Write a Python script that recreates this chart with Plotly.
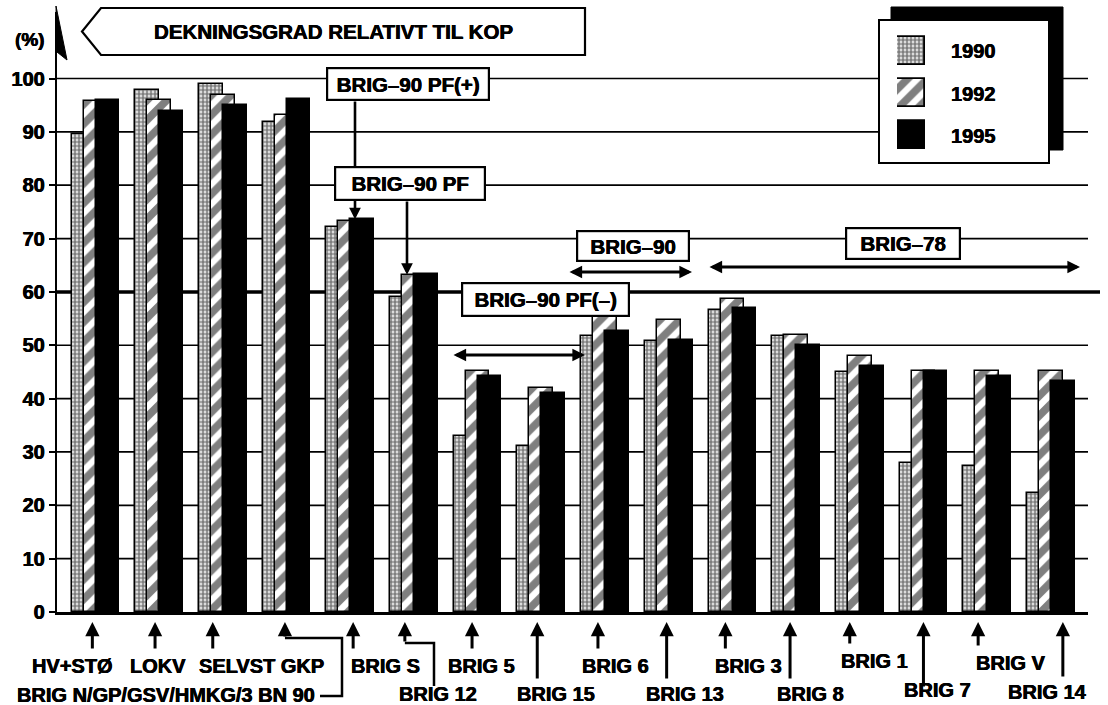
import plotly.graph_objects as go

# ---------------- data ----------------
CATEGORIES = ["HV+STØ", "LOKV", "SELVST GKP", "BRIG N/GP/GSV/HMKG/3 BN 90",
              "BRIG S", "BRIG 12", "BRIG 5", "BRIG 15", "BRIG 6", "BRIG 13",
              "BRIG 3", "BRIG 8", "BRIG 1", "BRIG 7", "BRIG V", "BRIG 14"]
YEARS = ["1990", "1992", "1995"]
V1990 = [89.6, 97.9, 98.9, 91.9, 72.2, 59.0, 33.0, 31.1, 51.7, 50.8, 56.7, 51.7, 45.0, 28.0, 27.3, 22.3]
V1992 = [95.8, 95.9, 96.9, 93.1, 73.3, 63.2, 45.2, 41.9, 57.0, 54.7, 58.6, 51.9, 47.9, 45.1, 45.1, 45.1]
V1995 = [95.9, 93.9, 95.1, 96.1, 73.6, 63.4, 44.3, 41.0, 52.6, 50.9, 57.0, 50.0, 46.2, 45.1, 44.3, 43.3]
Y_TICKS = list(range(0, 101, 10))
TITLE = "DEKNINGSGRAD RELATIVT TIL KOP"
Y_UNIT = "(%)"
BOX_LABELS = ["BRIG–90 PF(+)", "BRIG–90 PF", "BRIG–90 PF(–)", "BRIG–90", "BRIG–78"]

# ---------------- geometry / style ----------------
W, H = 1108, 705
L, R, T, B = 57, 1088, 12, 612
PX_PER_CAT = 63.7
CAT0_PX = 95.35
PX_PER_UNIT = 5.335
XMIN = (L - CAT0_PX) / PX_PER_CAT
XMAX = (R - CAT0_PX) / PX_PER_CAT
YMAX = (B - T) / PX_PER_UNIT

GROUP_W = 47.7 / PX_PER_CAT
BAR_W = 23.7 / PX_PER_CAT
STEP = 12.0 / PX_PER_CAT

FONT = "Liberation Sans, Arial, Helvetica, sans-serif"
HEAVY = "0.35px 0 0 black, -0.35px 0 0 black"


def bold(size):
    return dict(family=FONT, size=size, color="black", weight=700, shadow=HEAVY)


def paper_x(px):
    return (px - L) / (R - L)


def paper_y(py):
    return (B - py) / (B - T)


def cat_px(i):
    return CAT0_PX + PX_PER_CAT * i


def val_py(v):
    return B - v * PX_PER_UNIT


STYLES = {
    "1990": dict(color="white",
                 pattern=dict(shape=".", fgcolor="black", bgcolor="white", size=4, solidity=0.7)),
    "1992": dict(color="white",
                 pattern=dict(shape="/", fgcolor="black", bgcolor="white", size=14, solidity=0.55)),
    "1995": dict(color="black"),
}

fig = go.Figure()

# main bars (overlapping groups)
for i, (year, vals) in enumerate(zip(YEARS, [V1990, V1992, V1995])):
    fig.add_bar(x=list(range(len(CATEGORIES))), y=vals, name=year,
                width=BAR_W, offset=-GROUP_W / 2 + i * STEP,
                marker=dict(**STYLES[year], line=dict(color="black", width=1.5)),
                showlegend=False, hoverinfo="skip")

# legend swatches on a small auxiliary axis
for i, year in enumerate(YEARS):
    fig.add_bar(x=[1], y=[i], orientation="h", base=0, width=0.667,
                marker=dict(**STYLES[year], line=dict(color="black", width=1.8)),
                xaxis="x2", yaxis="y2", showlegend=False, hoverinfo="skip")

shapes = []
# gridlines
for v in Y_TICKS[1:]:
    thick = (v == 60)
    shapes.append(dict(type="line", xref="paper", yref="paper", layer="below",
                       x0=0, x1=paper_x(1100) if thick else 1,
                       y0=v / YMAX, y1=v / YMAX,
                       line=dict(color="black", width=3.5 if thick else 1.7)))
# legend shadow + box
shapes.append(dict(type="rect", xref="paper", yref="paper", layer="below",
                   x0=paper_x(891), x1=paper_x(1063), y0=paper_y(150), y1=paper_y(7),
                   fillcolor="black", line=dict(color="black", width=1)))
shapes.append(dict(type="rect", xref="paper", yref="paper", layer="below",
                   x0=paper_x(879), x1=paper_x(1049), y0=paper_y(163), y1=paper_y(20),
                   fillcolor="white", line=dict(color="black", width=2)))


def path(points):
    return "M" + " L".join(f"{paper_x(a):.5f},{paper_y(b):.5f}" for a, b in points)


# title chevron box
shapes.append(dict(type="path", xref="paper", yref="paper",
                   path=path([(101, 8), (585, 8), (585, 55), (101, 55), (82, 31.5)]) + " Z",
                   fillcolor="white", line=dict(color="black", width=2.2)))
# y-axis arrow head (harpoon)
shapes.append(dict(type="path", xref="paper", yref="paper",
                   path=path([(56, 6), (67, 60), (57, 52)]) + " Z",
                   fillcolor="black", line=dict(color="black", width=1)))

# category labels and arrows
CAT_LABEL_POS = [  # (text offset px, text y px, arrow offset px, arrow tail y px)
    (-23, 666, -3, 650),
    (-1, 666, -4, 650),
    (39, 666, -10, 650),
    (-120.5, 695, -1.5, 638),
    (35, 666, 3, 650),
    (24, 694, -9, 643),
    (4, 666, -5.5, 650),
    (15, 694, -4, 680),
    (11, 666, -7, 650),
    (16, 694, -2, 680),
    (16, 666, -7, 650),
    (14, 694, -6, 680),
    (15, 661, -10, 645),
    (14, 690, 0, 688),
    (24, 663, -9, 647),
    (-3, 692, 12, 678),
]

annotations = []
for i, name in enumerate(CATEGORIES):
    tdx, ty, adx, tail = CAT_LABEL_POS[i]
    annotations.append(dict(x=i + adx / PX_PER_CAT, xref="x", y=paper_y(622), yref="paper",
                            text="", showarrow=True, ax=0, ay=tail - 622,
                            arrowhead=2, arrowsize=0.95, arrowwidth=3, arrowcolor="black"))
    annotations.append(dict(x=i + tdx / PX_PER_CAT, xref="x", y=paper_y(ty), yref="paper",
                            text=name, showarrow=False, font=bold(20),
                            xanchor="center", yanchor="middle"))

# elbow connectors
ax3 = cat_px(3) + CAT_LABEL_POS[3][2]
ax5 = cat_px(5) + CAT_LABEL_POS[5][2]
shapes.append(dict(type="path", xref="paper", yref="paper",
                   path=path([(320, 696), (342, 696), (342, 638), (ax3, 638)]),
                   line=dict(color="black", width=2.5)))
shapes.append(dict(type="path", xref="paper", yref="paper",
                   path=path([(434, 686), (434, 643), (ax5, 643)]),
                   line=dict(color="black", width=2.5)))

# pointer arrows from PF boxes to bars
tip_x4 = (355 - CAT0_PX) / PX_PER_CAT
annotations.append(dict(x=tip_x4, xref="x", y=V1995[4], yref="y", text="", showarrow=True,
                        ax=0, ay=100 - val_py(V1995[4]),
                        arrowhead=2, arrowsize=0.9, arrowwidth=2.6, arrowcolor="black"))
tip_x5 = (407 - CAT0_PX) / PX_PER_CAT
annotations.append(dict(x=tip_x5, xref="x", y=V1992[5], yref="y", text="", showarrow=True,
                        ax=0, ay=200 - val_py(V1992[5]),
                        arrowhead=2, arrowsize=0.9, arrowwidth=2.6, arrowcolor="black"))

# double-headed range arrows
for x0, x1, yy in [(452, 585, 355), (568, 692, 272), (708, 1080, 267)]:
    annotations.append(dict(x=paper_x(x1), xref="paper", y=paper_y(yy), yref="paper",
                            text="", showarrow=True, ax=x0 - x1, ay=0,
                            arrowside="end+start", arrowhead=2, startarrowhead=2,
                            arrowsize=0.9, startarrowsize=0.9, arrowwidth=2.8,
                            arrowcolor="black"))

# boxed labels (cx, cy, w, h)
BOX_POS = [(408, 84, 162, 32), (410, 183.5, 150, 33), (545.5, 299, 167, 33),
           (633, 246, 112, 30), (903, 243, 114, 31)]
for text, (cx, cy, bw, bh) in zip(BOX_LABELS, BOX_POS):
    annotations.append(dict(x=paper_x(cx), xref="paper", y=paper_y(cy), yref="paper",
                            text=text, showarrow=False, font=bold(20.5),
                            bgcolor="white", bordercolor="black", borderwidth=2.2, borderpad=0,
                            width=bw - 2, height=bh - 2, xanchor="center", yanchor="middle"))

# title and unit
annotations.append(dict(x=paper_x(333), xref="paper", y=paper_y(32), yref="paper",
                        text=TITLE, showarrow=False, font=bold(20.5),
                        xanchor="center", yanchor="middle"))
annotations.append(dict(x=paper_x(30), xref="paper", y=paper_y(40), yref="paper",
                        text=Y_UNIT, showarrow=False, font=bold(19),
                        xanchor="center", yanchor="middle"))

# legend texts
for year, yy in zip(YEARS, [51, 94, 136]):
    annotations.append(dict(x=paper_x(949), xref="paper", y=paper_y(yy), yref="paper",
                            text=year, showarrow=False, font=bold(20),
                            xanchor="left", yanchor="middle"))

fig.update_layout(
    width=W, height=H,
    margin=dict(l=L, r=W - R, t=T, b=H - B, pad=0),
    plot_bgcolor="white", paper_bgcolor="white",
    barmode="overlay", bargap=0, showlegend=False,
    xaxis=dict(range=[XMIN, XMAX], showticklabels=False, ticks="", showgrid=False,
               zeroline=False, showline=True, linecolor="black", linewidth=2.5),
    yaxis=dict(range=[0, YMAX], tickvals=Y_TICKS, ticks="outside", ticklen=6,
               tickwidth=1.6, tickcolor="black", showgrid=False, zeroline=False,
               showline=True, linecolor="black", linewidth=2.4, tickfont=bold(20)),
    xaxis2=dict(domain=[paper_x(897), paper_x(925)], range=[0, 1], visible=False,
                anchor="y2", fixedrange=True),
    yaxis2=dict(domain=[paper_y(156), paper_y(30)], range=[2.5, -0.5], visible=False,
                anchor="x2", fixedrange=True),
    shapes=shapes,
    annotations=annotations,
)

fig.write_html("out.html", config={"displayModeBar": False},
               post_script="document.body.style.margin='0';")
